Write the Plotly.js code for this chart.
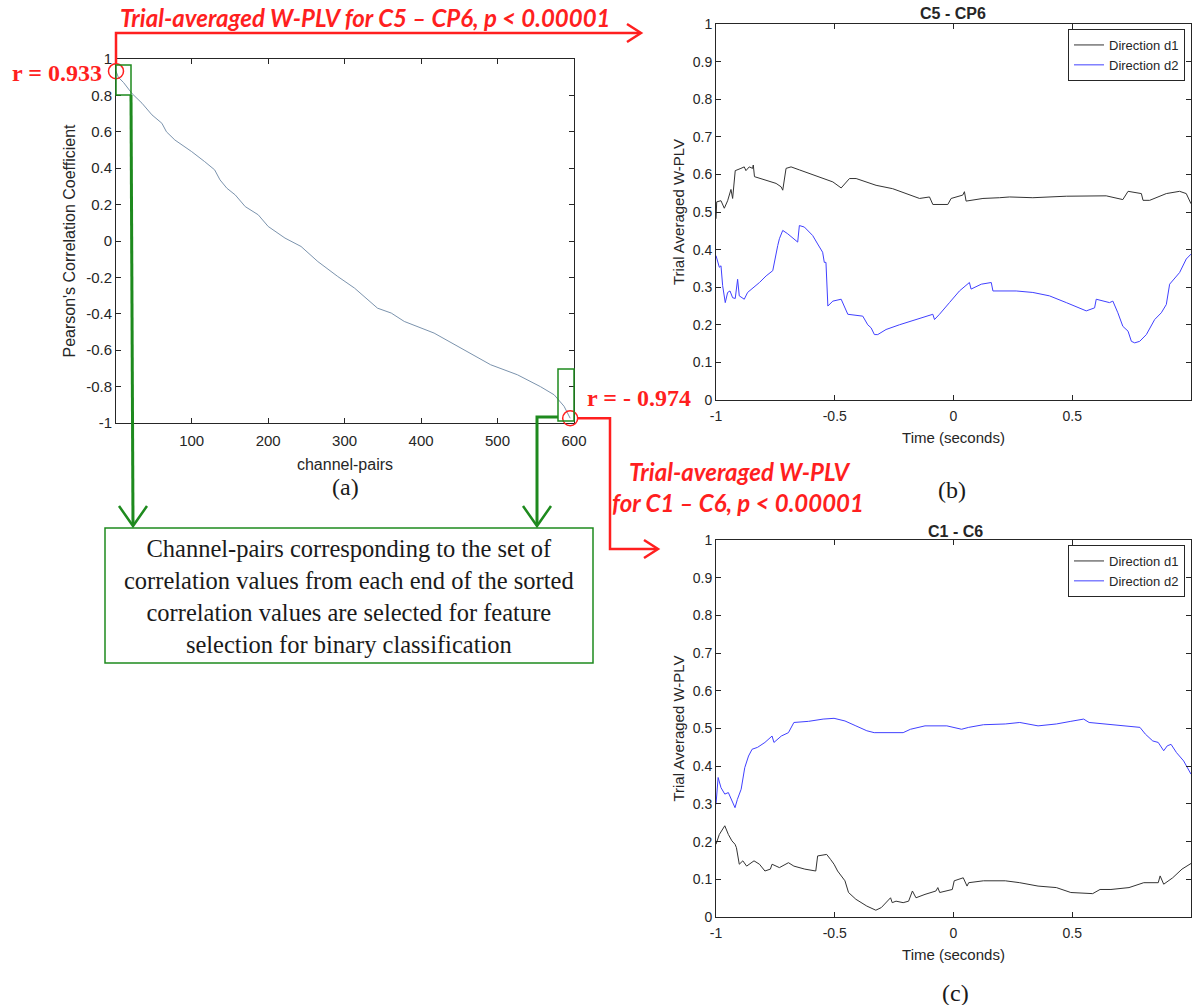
<!DOCTYPE html>
<html><head><meta charset="utf-8">
<script src="https://cdn.plot.ly/plotly-3.0.1.min.js"></script>
<style>html,body{margin:0;padding:0;background:#fff}#chart{width:1192px;height:1005px}</style>
</head><body><div id="chart"></div>
<script>
// ---- (a) sorted Pearson correlation per channel-pair ----
const a_channel = [1, 4, 11, 22, 35, 48, 61, 67, 78, 100, 117, 130, 137, 146, 157, 170, 187, 200, 222, 243, 265, 291, 313, 343, 361, 378, 417, 448, 491, 526, 556, 574, 587, 595];
const a_corr = [0.933, 0.90, 0.87, 0.81, 0.757, 0.693, 0.647, 0.60, 0.555, 0.491, 0.436, 0.391, 0.336, 0.29, 0.253, 0.189, 0.144, 0.08, 0.016, -0.03, -0.113, -0.195, -0.259, -0.369, -0.396, -0.442, -0.506, -0.579, -0.68, -0.735, -0.80, -0.845, -0.908, -0.974];
const a_xticks = [100, 200, 300, 400, 500, 600];
const a_yticks = [-1, -0.8, -0.6, -0.4, -0.2, 0, 0.2, 0.4, 0.6, 0.8, 1];
const a_yticklabels = ['-1', '-0.8', '-0.6', '-0.4', '-0.2', '0', '0.2', '0.4', '0.6', '0.8', '1'];

// ---- (b) C5 - CP6 ----
const b_time_d1 = [-1.0, -0.997, -0.979, -0.965, -0.951, -0.937, -0.930, -0.919, -0.895, -0.881, -0.874, -0.860, -0.846, -0.843, -0.838, -0.789, -0.747, -0.726, -0.719, -0.705, -0.684, -0.649, -0.607, -0.565, -0.508, -0.473, -0.438, -0.410, -0.326, -0.256, -0.199, -0.143, -0.101, -0.087, -0.024, -0.010, 0.039, 0.046, 0.053, 0.124, 0.194, 0.236, 0.334, 0.475, 0.643, 0.699, 0.713, 0.735, 0.770, 0.791, 0.798, 0.826, 0.896, 0.952, 0.980, 1.0];
const b_d1 = [0.482, 0.527, 0.53, 0.51, 0.53, 0.56, 0.536, 0.61, 0.616, 0.62, 0.61, 0.62, 0.616, 0.625, 0.594, 0.585, 0.576, 0.567, 0.558, 0.616, 0.62, 0.612, 0.603, 0.594, 0.58, 0.564, 0.589, 0.589, 0.571, 0.562, 0.549, 0.536, 0.540, 0.52, 0.52, 0.536, 0.545, 0.554, 0.529, 0.536, 0.538, 0.54, 0.538, 0.542, 0.543, 0.536, 0.533, 0.555, 0.552, 0.549, 0.531, 0.531, 0.549, 0.555, 0.549, 0.522];
const b_time_d2 = [-1.0, -0.993, -0.986, -0.979, -0.972, -0.961, -0.951, -0.941, -0.930, -0.919, -0.909, -0.902, -0.881, -0.867, -0.817, -0.789, -0.761, -0.740, -0.733, -0.719, -0.698, -0.656, -0.649, -0.628, -0.593, -0.572, -0.551, -0.544, -0.537, -0.529, -0.508, -0.473, -0.459, -0.445, -0.382, -0.361, -0.347, -0.333, -0.319, -0.284, -0.228, -0.157, -0.087, -0.080, -0.059, -0.017, 0.025, 0.067, 0.074, 0.117, 0.159, 0.166, 0.264, 0.334, 0.404, 0.475, 0.559, 0.594, 0.601, 0.657, 0.671, 0.692, 0.713, 0.735, 0.749, 0.763, 0.784, 0.812, 0.847, 0.875, 0.896, 0.910, 0.952, 0.980, 1.0];
const b_d2 = [0.384, 0.366, 0.353, 0.357, 0.304, 0.259, 0.286, 0.29, 0.272, 0.270, 0.321, 0.277, 0.268, 0.286, 0.3125, 0.33, 0.344, 0.411, 0.429, 0.451, 0.442, 0.42, 0.464, 0.46, 0.4375, 0.415, 0.393, 0.366, 0.366, 0.25, 0.263, 0.268, 0.25, 0.228, 0.223, 0.2, 0.192, 0.174, 0.174, 0.1875, 0.2, 0.214, 0.228, 0.214, 0.228, 0.259, 0.29, 0.3125, 0.295, 0.308, 0.3125, 0.29, 0.29, 0.286, 0.277, 0.259, 0.237, 0.245, 0.268, 0.259, 0.263, 0.232, 0.196, 0.183, 0.156, 0.152, 0.156, 0.174, 0.214, 0.232, 0.254, 0.308, 0.339, 0.375, 0.388];

// ---- (c) C1 - C6 ----
const c_time_d1 = [-1.0, -0.986, -0.963, -0.948, -0.933, -0.920, -0.914, -0.902, -0.887, -0.871, -0.840, -0.817, -0.794, -0.771, -0.764, -0.748, -0.733, -0.695, -0.672, -0.626, -0.580, -0.572, -0.534, -0.518, -0.503, -0.488, -0.457, -0.442, -0.411, -0.365, -0.327, -0.304, -0.281, -0.265, -0.258, -0.242, -0.212, -0.189, -0.173, -0.158, -0.120, -0.074, -0.066, -0.058, -0.005, 0.003, 0.041, 0.057, 0.064, 0.126, 0.218, 0.279, 0.356, 0.433, 0.494, 0.586, 0.617, 0.663, 0.739, 0.801, 0.862, 0.870, 0.885, 0.923, 0.962, 1.0];
const c_d1 = [0.193, 0.219, 0.242, 0.219, 0.202, 0.193, 0.184, 0.14, 0.149, 0.135, 0.149, 0.14, 0.122, 0.127, 0.14, 0.135, 0.131, 0.144, 0.135, 0.127, 0.122, 0.162, 0.166, 0.153, 0.14, 0.122, 0.096, 0.065, 0.047, 0.029, 0.018, 0.025, 0.042, 0.051, 0.038, 0.042, 0.038, 0.042, 0.069, 0.051, 0.06, 0.069, 0.078, 0.065, 0.073, 0.096, 0.104, 0.082, 0.091, 0.096, 0.096, 0.091, 0.082, 0.078, 0.065, 0.062, 0.073, 0.073, 0.078, 0.091, 0.091, 0.109, 0.087, 0.104, 0.127, 0.142];
const c_time_d2 = [-1.0, -0.991, -0.979, -0.963, -0.948, -0.933, -0.920, -0.910, -0.894, -0.879, -0.863, -0.848, -0.825, -0.794, -0.771, -0.764, -0.756, -0.725, -0.695, -0.672, -0.610, -0.549, -0.503, -0.457, -0.411, -0.365, -0.334, -0.273, -0.242, -0.212, -0.181, -0.120, -0.028, 0.034, 0.064, 0.126, 0.218, 0.279, 0.356, 0.433, 0.494, 0.548, 0.571, 0.647, 0.739, 0.785, 0.808, 0.839, 0.862, 0.885, 0.900, 0.916, 0.939, 0.969, 1.0];
const c_d2 = [0.299, 0.37, 0.343, 0.326, 0.33, 0.308, 0.29, 0.312, 0.339, 0.396, 0.427, 0.445, 0.45, 0.463, 0.476, 0.48, 0.463, 0.48, 0.489, 0.516, 0.519, 0.525, 0.527, 0.52, 0.507, 0.494, 0.489, 0.489, 0.487, 0.489, 0.498, 0.507, 0.507, 0.498, 0.503, 0.51, 0.512, 0.516, 0.507, 0.512, 0.519, 0.525, 0.516, 0.512, 0.507, 0.503, 0.485, 0.467, 0.463, 0.441, 0.454, 0.458, 0.436, 0.414, 0.379];

const t_ticks = [-1, -0.5, 0, 0.5, 1];
const t_ticklabels = ['-1', '-0.5', '0', '0.5', '1'];
const v_ticks = [0, 0.1, 0.2, 0.3, 0.4, 0.5, 0.6, 0.7, 0.8, 0.9, 1];
const v_ticklabels = ['0', '0.1', '0.2', '0.3', '0.4', '0.5', '0.6', '0.7', '0.8', '0.9', '1'];
const seriesNames = ['Direction d1', 'Direction d2'];

// ---- layout helpers (pixel -> paper) ----
const W = 1192, H = 1005;
const PX = x => x / W, PY = y => 1 - y / H;
const pt = (x, y) => PX(x) + ',' + PY(y);
const path = pts => 'M' + pts.map(p => pt(p[0], p[1])).join(' L');

// panel (a) frame in pixels and its data range
const A_L = 116, A_R = 574, A_T = 59, A_B = 423, A_XR = [1, 600], A_YR = [-1, 1];
const aPX = v => A_L + (v - A_XR[0]) / (A_XR[1] - A_XR[0]) * (A_R - A_L);
const aPY = v => A_B - (v - A_YR[0]) / (A_YR[1] - A_YR[0]) * (A_B - A_T);

const SANS = 'Liberation Sans, Arial, Helvetica, sans-serif';
const SERIF = 'Liberation Serif, Times New Roman, serif';
const RED = '#ff1f1f', GREEN = '#1e8a1e', AX = '#262626';
const BLACKLINE = '#333333', BLUELINE = '#4040ff';

function axis(extra, fs) {
  return Object.assign({
    showline: true, linecolor: AX, linewidth: 1, mirror: 'ticks',
    ticks: 'inside', ticklen: 5, tickcolor: AX, showgrid: false, zeroline: false,
    tickfont: {family: SANS, size: fs, color: AX}, tickmode: 'array', fixedrange: true
  }, extra);
}

const traces = [
  {x: a_channel, y: a_corr, xaxis: 'x', yaxis: 'y', type: 'scatter', mode: 'lines',
   line: {color: '#7b93ad', width: 1}, showlegend: false, hoverinfo: 'skip'},
  {x: b_time_d1, y: b_d1, xaxis: 'x2', yaxis: 'y2', type: 'scatter', mode: 'lines', name: seriesNames[0],
   line: {color: BLACKLINE, width: 1}, legend: 'legend'},
  {x: b_time_d2, y: b_d2, xaxis: 'x2', yaxis: 'y2', type: 'scatter', mode: 'lines', name: seriesNames[1],
   line: {color: BLUELINE, width: 1}, legend: 'legend'},
  {x: c_time_d1, y: c_d1, xaxis: 'x3', yaxis: 'y3', type: 'scatter', mode: 'lines', name: seriesNames[0],
   line: {color: BLACKLINE, width: 1}, legend: 'legend2'},
  {x: c_time_d2, y: c_d2, xaxis: 'x3', yaxis: 'y3', type: 'scatter', mode: 'lines', name: seriesNames[1],
   line: {color: BLUELINE, width: 1}, legend: 'legend2'}
];

const legendStyle = (top) => ({
  x: PX(1185), xanchor: 'right', y: PY(top), yanchor: 'top',
  bgcolor: '#ffffff', bordercolor: AX, borderwidth: 1,
  font: {family: SANS, size: 13, color: AX}, tracegroupgap: 0, itemwidth: 30
});

const iFirst = 0, iLast = a_channel.length - 1;
const c1x = aPX(a_channel[iFirst]), c1y = aPY(a_corr[iFirst]);
const c2x = aPX(a_channel[iLast]), c2y = aPY(a_corr[iLast]);
const circ = (cx, cy, r) => ({type: 'circle', xref: 'paper', yref: 'paper',
  x0: PX(cx - r), x1: PX(cx + r), y0: PY(cy + r), y1: PY(cy - r), line: {color: RED, width: 1.5}});

const shapes = [
  // red connector to (b)
  {type: 'path', xref: 'paper', yref: 'paper', path: path([[116, c1y - 7], [116, 33], [640, 33]]), line: {color: RED, width: 2.5}},
  {type: 'path', xref: 'paper', yref: 'paper', path: path([[627, 24], [641, 33], [627, 42]]), line: {color: RED, width: 2.5}},
  // red connector to (c)
  {type: 'path', xref: 'paper', yref: 'paper', path: path([[c2x + 7, c2y], [610, c2y], [610, 549], [657, 549]]), line: {color: RED, width: 2.5}},
  {type: 'path', xref: 'paper', yref: 'paper', path: path([[644, 540], [658, 549], [644, 558]]), line: {color: RED, width: 2.5}},
  // red circles at the extreme correlations
  circ(c1x, c1y, 7.5),
  circ(c2x, c2y, 7.5),
  // green selection boxes and arrows
  {type: 'rect', xref: 'paper', yref: 'paper', x0: PX(116), x1: PX(131), y0: PY(95), y1: PY(65), line: {color: GREEN, width: 1.5}},
  {type: 'path', xref: 'paper', yref: 'paper', path: path([[131, 95], [133, 525]]), line: {color: GREEN, width: 3}},
  {type: 'path', xref: 'paper', yref: 'paper', path: path([[119, 506], [133, 526], [147, 506]]), line: {color: GREEN, width: 2.5}},
  {type: 'rect', xref: 'paper', yref: 'paper', x0: PX(558), x1: PX(574), y0: PY(421), y1: PY(369), line: {color: GREEN, width: 1.5}},
  {type: 'path', xref: 'paper', yref: 'paper', path: path([[558, 417], [537, 417], [537, 525]]), line: {color: GREEN, width: 3}},
  {type: 'path', xref: 'paper', yref: 'paper', path: path([[523, 506], [537, 526], [551, 506]]), line: {color: GREEN, width: 2.5}},
  {type: 'rect', xref: 'paper', yref: 'paper', x0: PX(105), x1: PX(593), y0: PY(663), y1: PY(528), line: {color: GREEN, width: 1.5}}
];

const ann = (x, y, text, font, extra) => Object.assign({xref: 'paper', yref: 'paper', x: PX(x), y: PY(y),
  xanchor: 'center', yanchor: 'middle', showarrow: false, text: text, font: font}, extra || {});
const redItalic = {family: 'Lato, Liberation Sans, sans-serif', size: 24, color: RED};

const annotations = [
  ann(365, 18, '<b><i>Trial-averaged W-PLV for C5 – CP6, p < 0.00001</i></b>', redItalic),
  ann(740, 471, '<b><i>Trial-averaged W-PLV</i></b>', redItalic),
  ann(738, 502, '<b><i>for C1 – C6, p < 0.00001</i></b>', redItalic),
  ann(104, 73, '<b>r = 0.933</b>', {family: SERIF, size: 24, color: RED}, {xanchor: 'right'}),
  ann(585, 398, '<b>r = - 0.974</b>', {family: SERIF, size: 24, color: RED}, {xanchor: 'left'}),
  ann(345, 487, '(a)', {family: SERIF, size: 24, color: '#1a1a1a'}),
  ann(952, 490, '(b)', {family: SERIF, size: 24, color: '#1a1a1a'}),
  ann(955, 993, '(c)', {family: SERIF, size: 24, color: '#1a1a1a'}),
  ann(349, 596, 'Channel-pairs corresponding to the set of<br>correlation values from each end of the sorted<br>correlation values are selected for feature<br>selection for binary classification',
      {family: SERIF, size: 24.5, color: '#1a1a1a'}, {align: 'center'}),
  ann(953, 14, '<b>C5 - CP6</b>', {family: SANS, size: 16, color: AX}),
  ann(955, 531, '<b>C1 - C6</b>', {family: SANS, size: 16, color: AX})
];

const layout = {
  width: W, height: H, margin: {l: 0, r: 0, t: 0, b: 0},
  paper_bgcolor: '#ffffff', plot_bgcolor: '#ffffff', showlegend: true,
  font: {family: SANS, color: AX},
  xaxis: axis({domain: [PX(A_L), PX(A_R)], range: A_XR, tickvals: a_xticks, ticktext: a_xticks.map(String), anchor: 'y',
    ticklabelstandoff: 4,
    title: {text: 'channel-pairs', font: {family: SANS, size: 16, color: AX}, standoff: 10}}, 15),
  yaxis: axis({domain: [PY(A_B), PY(A_T)], range: A_YR, tickvals: a_yticks, ticktext: a_yticklabels, anchor: 'x',
    title: {text: "Pearson's Correlation Coefficient", font: {family: SANS, size: 16, color: AX}, standoff: 6}}, 15),
  xaxis2: axis({domain: [PX(716), PX(1191)], range: [-1, 1], tickvals: t_ticks, ticktext: t_ticklabels, anchor: 'y2',
    ticklabelstandoff: 3,
    title: {text: 'Time (seconds)', font: {family: SANS, size: 15, color: AX}, standoff: 9}}, 14),
  yaxis2: axis({domain: [PY(400), PY(24)], range: [0, 1], tickvals: v_ticks, ticktext: v_ticklabels, anchor: 'x2',
    title: {text: 'Trial Averaged W-PLV', font: {family: SANS, size: 15, color: AX}, standoff: 4}}, 14),
  xaxis3: axis({domain: [PX(716), PX(1191)], range: [-1, 1], tickvals: t_ticks, ticktext: t_ticklabels, anchor: 'y3',
    ticklabelstandoff: 3,
    title: {text: 'Time (seconds)', font: {family: SANS, size: 15, color: AX}, standoff: 9}}, 14),
  yaxis3: axis({domain: [PY(917), PY(540)], range: [0, 1], tickvals: v_ticks, ticktext: v_ticklabels, anchor: 'x3',
    title: {text: 'Trial Averaged W-PLV', font: {family: SANS, size: 15, color: AX}, standoff: 4}}, 14),
  legend: legendStyle(29),
  legend2: legendStyle(545),
  shapes: shapes,
  annotations: annotations
};

Plotly.newPlot('chart', traces, layout, {staticPlot: true, displayModeBar: false});
</script>
</body></html>
